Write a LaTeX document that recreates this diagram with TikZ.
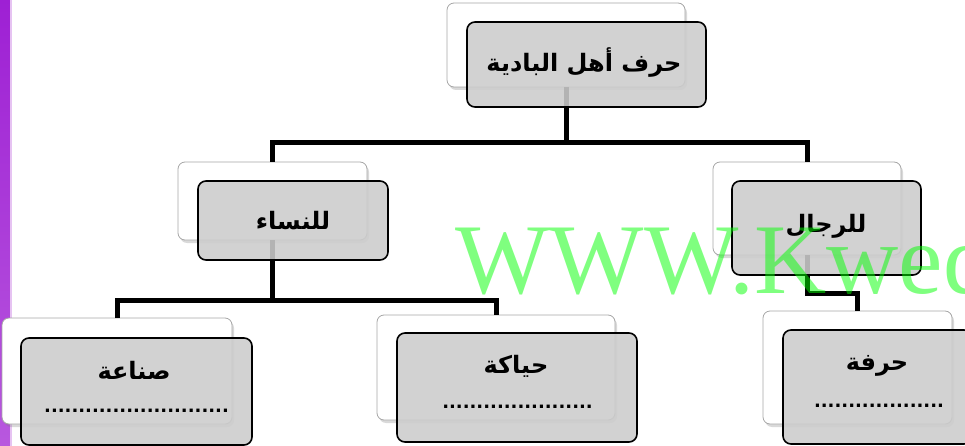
\documentclass[tikz,border=0pt]{standalone}
\usepackage{fontspec}
\newfontfamily\arabicfont[Script=Arabic]{DejaVu Sans}
\newfontfamily\wmfont{Liberation Serif}
\TeXXeTstate=1
\usetikzlibrary{shadows}
\definecolor{striptop}{RGB}{158,32,212}
\definecolor{stripbottom}{RGB}{184,88,222}
\definecolor{stripedge}{RGB}{230,195,242}
\definecolor{boxgrey}{RGB}{204,204,204}
\tikzset{
  backbox/.style={draw=black!35, line width=.8pt, fill=white, rounded corners=7pt,
    inner sep=0pt, outer sep=0pt,
    drop shadow={shadow xshift=2pt, shadow yshift=-3pt, opacity=.3}},
  frontbox/.style={draw=black, line width=1.6pt, fill=boxgrey, fill opacity=.88,
    rounded corners=8pt, inner sep=0pt, outer sep=0pt},
  link/.style={line width=5pt},
  title/.style={font=\arabicfont\bfseries\fontsize{24}{28}\selectfont, inner sep=0pt},
  dotrow/.style={font=\arabicfont\bfseries\fontsize{18}{20}\selectfont, inner sep=0pt},
  watermark/.style={font=\wmfont\fontsize{100}{100}\selectfont, text=green,
    text opacity=.5, inner sep=0pt}
}
\begin{document}
\begin{tikzpicture}[x=1pt,y=-1pt]
  \useasboundingbox (0,0) rectangle (965,446);
  % side strip
  \shade[top color=striptop, bottom color=stripbottom] (0,0) rectangle (10,446);
  \fill[stripedge] (10,0) rectangle (11.5,446);

  % white boxes behind
  \node[backbox, minimum width=238pt, minimum height=84pt] (topb) at (566,45){};
  \node[backbox, minimum width=189pt, minimum height=78pt] (womenb) at (272.5,201){};
  \node[backbox, minimum width=188pt, minimum height=93pt] (menb) at (807,208.5){};
  \node[backbox, minimum width=230pt, minimum height=106pt] (sinaab) at (117,371){};
  \node[backbox, minimum width=238pt, minimum height=105pt] (hiyakab) at (496,367.5){};
  \node[backbox, minimum width=189pt, minimum height=113pt] (hirfab) at (857.5,367.5){};

  % connectors
  \draw[link](topb.south) -- ++(0,56) coordinate (topj);
  \draw[link](womenb.north) |- (topj) -| (menb.north);
  \draw[link](womenb.south) -- ++(0,60) coordinate (womenj);
  \draw[link](sinaab.north) |- (womenj) -| (hiyakab.north);
  \draw[link](menb.south) -- ++(0,38) -| (hirfab.north);

  % grey boxes in front
  \node[frontbox, minimum width=239pt, minimum height=85pt] (top) at (586.5,64.5){};
  \node[frontbox, minimum width=190pt, minimum height=79pt] (women) at (293,220.5){};
  \node[frontbox, minimum width=189pt, minimum height=94pt] (men) at (826.5,228){};
  \node[frontbox, minimum width=231pt, minimum height=107pt] (sinaa) at (136.5,391.5){};
  \node[frontbox, minimum width=240pt, minimum height=109pt] (hiyaka) at (517,387.5){};
  \node[frontbox, minimum width=189pt, minimum height=114pt] (hirfa) at (877.5,387){};

  % texts
  \node[title] (toptext) at (584,63) {\beginR حرف أهل البادية\endR};
  \node[title] (womentext) at (women.center) {\beginR للنساء\endR};
  \node[title] (mentext) at (826,226) {\beginR للرجال\endR};
  \node[title] (sinaatext) at (134,370) {\beginR صناعة\endR};
  \node[title] (hiyakatext) at (516,366) {\beginR حياكة\endR};
  \node[title] (hirfatext) at (877,366) {\beginR حرفة\endR};
  \node[dotrow] (sinaadots) at (136.5,411) {...........................};
  \node[dotrow] (hiyakadots) at (517.5,407) {......................};
  \node[dotrow] (hirfadots) at (879,406) {...................};

  % watermark
  \node[watermark, anchor=base west] (wm) at (455,293) {WWW.Kwed};
\end{tikzpicture}
\end{document}
